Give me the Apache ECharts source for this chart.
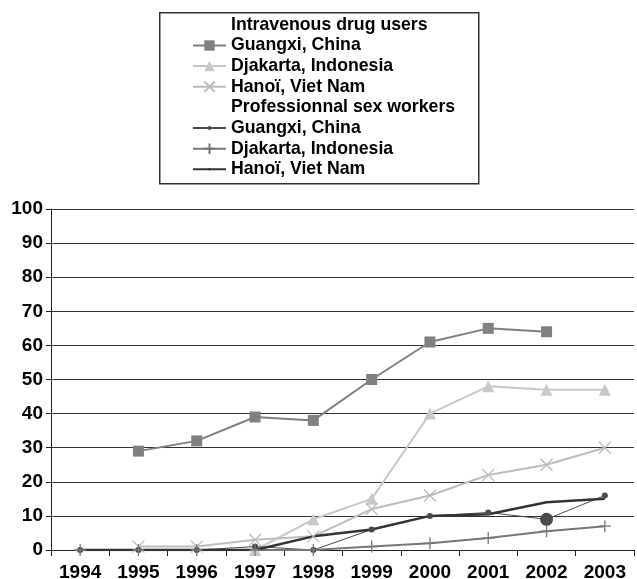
<!DOCTYPE html>
<html>
<head>
<meta charset="utf-8">
<script src="https://cdn.jsdelivr.net/npm/echarts@6/dist/echarts.min.js"></script>
<style>
html,body{margin:0;padding:0;background:#fff;}
#chart{width:637px;height:579px;}
</style>
</head>
<body>
<div id="chart"></div>
<script>
var years = ['1994','1995','1996','1997','1998','1999','2000','2001','2002','2003'];
var yTicks = [0,10,20,30,40,50,60,70,80,90,100];

var headerIDU = 'Intravenous drug users';
var headerPSW = 'Professionnal sex workers';

var iduGuangxi  = [null, 29, 32, 39, 38, 50, 61, 65, 64, null];
var iduDjakarta = [null, null, null, 0, 9, 15, 40, 48, 47, 47];
var iduHanoi    = [null, 1, 1, 3, 4, 12, 16, 22, 25, 30];
var pswGuangxi  = [0, 0, 0, 1, 0, 6, 10, 11, 9, 16];
var pswDjakarta = [0, 0, 0, 0, 0, 1, 2, 3.5, 5.5, 7];
var pswHanoi    = [0, 0, 0, 0, 4, 6, 10, 10.5, 14, 15];

var legendNames = [headerIDU,'Guangxi, China ','Djakarta, Indonesia ','Hanoï, Viet Nam ',
                   headerPSW,'Guangxi, China','Djakarta, Indonesia','Hanoï, Viet Nam'];

var FONT = '"Liberation Sans", Arial, Helvetica, sans-serif';
var chart = echarts.init(document.getElementById('chart'), null, {renderer:'canvas'});

function header(name){
  return {name:name, type:'line', data:[], symbol:'none', lineStyle:{opacity:0}, itemStyle:{opacity:0}};
}

// layout of legend rows (vertical centres) and icon heights
var rowCentres = [25.5, 45.5, 66, 86.7, 107.3, 128, 148.7, 169.3];
var iconH = [14, 13, 13, 13, 14, 5, 13, 3];
var legends = legendNames.map(function(n, i){
  return {
    orient:'vertical', left:192, top:rowCentres[i] - 9, padding:0,
    height:18,
    itemWidth:33, itemHeight:iconH[i], itemGap:0, selectedMode:false,
    textStyle:{fontFamily:FONT, fontWeight:'bold', fontSize:17.7, color:'#000', lineHeight:18},
    data:[n]
  };
});

var option = {
  animation:false,
  backgroundColor:'#fff',
  textStyle:{fontFamily:FONT},
  graphic:[{
    type:'rect', left:159, top:12, silent:true, z:-1,
    shape:{width:319, height:171},
    style:{fill:'#fff', stroke:'#333', lineWidth:1.5}
  }],
  legend:legends,
  grid:{left:51, right:3, top:209, bottom:29, containLabel:false, outerBoundsMode:'none'},
  xAxis:{
    type:'category', data:years, boundaryGap:true,
    axisLine:{lineStyle:{color:'#222', width:1}},
    axisTick:{show:true, interval:0, length:6, lineStyle:{color:'#222'}},
    axisLabel:{interval:0, margin:13, fontFamily:FONT, fontWeight:'bold', fontSize:19, color:'#000'},
    splitLine:{show:false}
  },
  yAxis:{
    type:'value', min:yTicks[0], max:yTicks[yTicks.length-1], interval:10,
    axisLine:{show:true, lineStyle:{color:'#222', width:1}},
    axisTick:{show:true, length:5, lineStyle:{color:'#222'}},
    axisLabel:{margin:8, fontFamily:FONT, fontWeight:'bold', fontSize:19, color:'#000'},
    splitLine:{show:true, lineStyle:{color:'#333', width:1.2}}
  },
  series:[
    header(headerIDU),
    {name:'Guangxi, China ', type:'line', data:iduGuangxi, color:'#808080',
      symbol:'rect', symbolSize:11, lineStyle:{width:2, color:'#808080'}, itemStyle:{color:'#808080'}},
    {name:'Djakarta, Indonesia ', type:'line', data:iduDjakarta, color:'#c8c8c8',
      symbol:'triangle', symbolSize:12, lineStyle:{width:2, color:'#c8c8c8'}, itemStyle:{color:'#c8c8c8'}},
    {name:'Hanoï, Viet Nam ', type:'line', data:iduHanoi, color:'#bdbdbd',
      symbol:'path://M0,0L10,10M10,0L0,10', symbolSize:12, symbolKeepAspect:true,
      lineStyle:{width:2, color:'#bdbdbd'}, itemStyle:{color:'#bdbdbd', borderColor:'#bdbdbd', borderWidth:1.3}},
    header(headerPSW),
    {name:'Guangxi, China', type:'line', data:pswGuangxi, color:'#4a4a4a',
      symbol:'circle', symbolSize:function(v, p){ return p.dataIndex === 8 ? 13 : 6; },
      lineStyle:{width:1, color:'#4a4a4a'}, itemStyle:{color:'#4a4a4a'}},
    {name:'Djakarta, Indonesia', type:'line', data:pswDjakarta, color:'#777',
      symbol:'path://M5,0L5,10M0,5L10,5', symbolSize:12,
      lineStyle:{width:2, color:'#777'}, itemStyle:{color:'#777', borderColor:'#777', borderWidth:1.3}},
    {name:'Hanoï, Viet Nam', type:'line', data:pswHanoi, color:'#333',
      symbol:'none', lineStyle:{width:2.5, color:'#333'}, itemStyle:{color:'#333'}}
  ]
};
chart.setOption(option);
</script>
</body>
</html>
